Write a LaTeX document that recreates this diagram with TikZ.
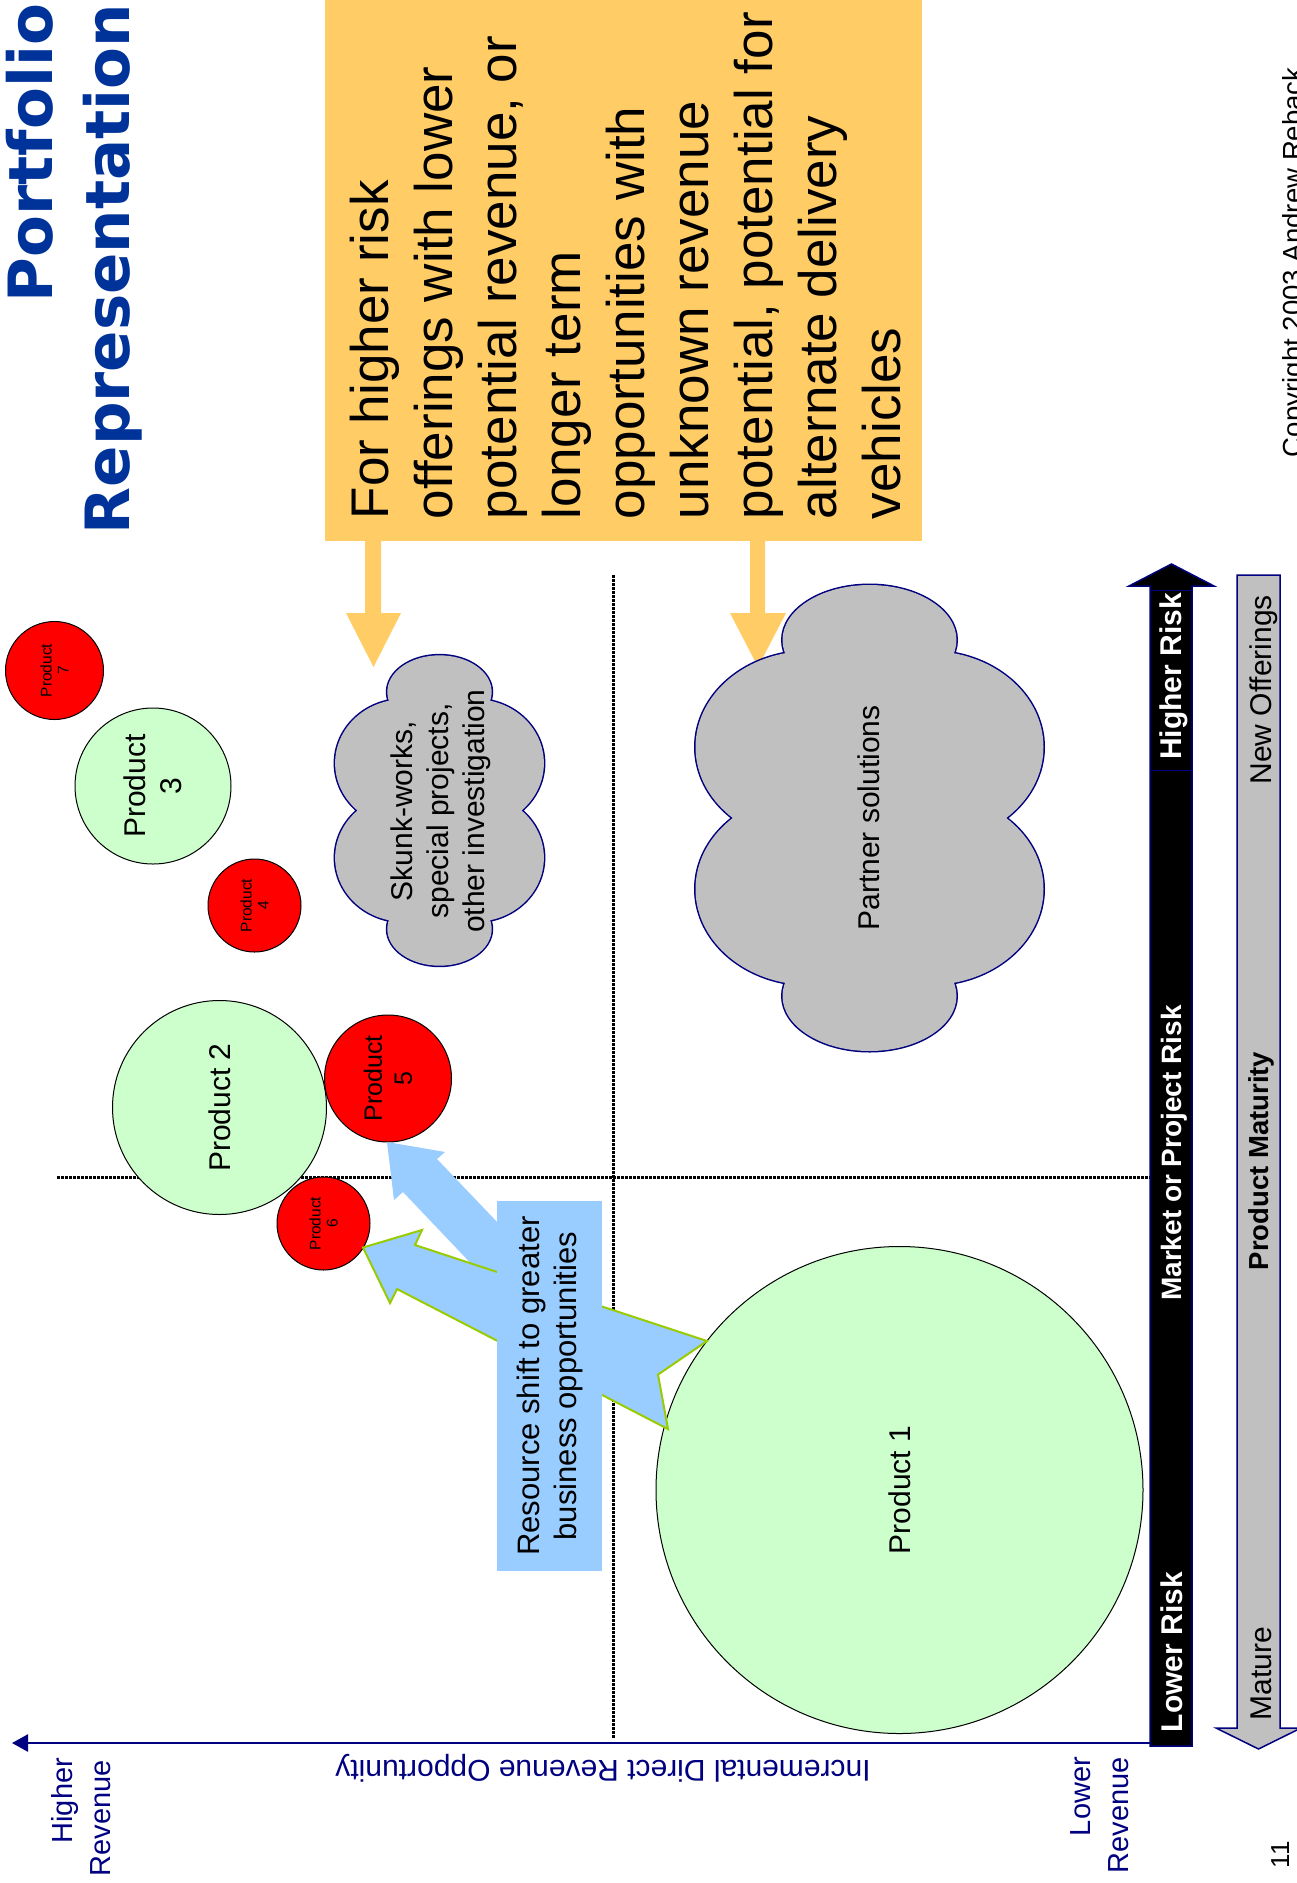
\documentclass[tikz,border=0pt]{standalone}
\usepackage{fontspec}
\setmainfont{Liberation Sans}
\newfontfamily\titlefont{DejaVu Sans}
\usetikzlibrary{arrows.meta}
\definecolor{navy}{RGB}{0,0,128}
\definecolor{titleblue}{RGB}{0,51,153}
\definecolor{orangebox}{RGB}{255,204,102}
\definecolor{lgreen}{RGB}{204,255,204}
\definecolor{cgray}{RGB}{192,192,192}
\definecolor{lblue}{RGB}{153,204,255}
\definecolor{ygreen}{RGB}{153,204,0}
\newcommand\cloudshape[4]{%
 \begin{scope}[shift={(#1,#2)}, xscale=#3, yscale=#4]
  \draw[navy, line width=3pt] (0,-178) ellipse [x radius=87, y radius=55] (0,178) ellipse [x radius=87, y radius=55]
   (-60,-71) ellipse [x radius=114, y radius=96] (60,-71) ellipse [x radius=114, y radius=96]
   (-60,71) ellipse [x radius=114, y radius=96] (60,71) ellipse [x radius=114, y radius=96];
  \fill[cgray] (0,-178) ellipse [x radius=87, y radius=55] (0,178) ellipse [x radius=87, y radius=55]
   (-60,-71) ellipse [x radius=114, y radius=96] (60,-71) ellipse [x radius=114, y radius=96]
   (-60,71) ellipse [x radius=114, y radius=96] (60,71) ellipse [x radius=114, y radius=96];
 \end{scope}}
\begin{document}
\begin{tikzpicture}[x=1pt, y=-1pt,
  every node/.style={inner sep=0pt, outer sep=0pt},
  dotline/.style={line width=3pt, dash pattern=on 2.5pt off 1.5pt},
  otxt/.style={rotate=90, anchor=base west, font=\fontsize{53}{64}\selectfont},
  prodg/.style={circle, draw=black, line width=1pt, fill=lgreen, align=center, rotate=90},
  prodr/.style={circle, draw=black, line width=1pt, fill=red, align=center, rotate=90},
  big/.style={font=\fontsize{30}{36}\selectfont},
  mid/.style={font=\fontsize{25}{30}\selectfont},
  tiny/.style={font=\fontsize{15.5}{17}\selectfont},
  risklbl/.style={rotate=90, text=white, font=\bfseries\fontsize{30}{36}\selectfont},
  matlbl/.style={rotate=90, text=black, font=\fontsize{30}{36}\selectfont},
  revlbl/.style={rotate=90, anchor=base east, text=navy, font=\fontsize{29}{36}\selectfont}]
\useasboundingbox (0,0) rectangle (1297,1883);
\fill[white] (0,0) rectangle (1297,1883);

% quadrant dotted lines
\coordinate (vd1) at (613,575); \coordinate (vd2) at (613,1738);
\coordinate (hd1) at (57,1177); \coordinate (hd2) at (1150,1177);
\draw[dotline] (vd1) -- (vd2);
\draw[dotline] (hd1) -- (hd2);

% title
\node[rotate=90, anchor=base east, text=titleblue, font=\titlefont\bfseries\fontsize{61}{61}\selectfont] (t1) at (52,4) {Portfolio};
\node[rotate=90, anchor=base east, text=titleblue, font=\titlefont\bfseries\fontsize{61}{61}\selectfont] (t2) at (129,4) {Representation};

% orange note
\node[fill=orangebox, minimum width=597pt, minimum height=541pt, anchor=north west] (obox) at (325,0) {};
\node[otxt] (o1) at (388,519) {For higher risk};
\node[otxt] (o2) at (452.1,519) {offerings with lower};
\node[otxt] (o3) at (516.2,519) {potential revenue, or};
\node[otxt] (o4) at (580.3,519) {longer term};
\node[otxt] (o5) at (644.4,519) {opportunities with};
\node[otxt] (o6) at (708.5,519) {unknown revenue};
\node[otxt] (o7) at (772.6,519) {potential, potential for};
\node[otxt] (o8) at (836.7,519) {alternate delivery};
\node[otxt] (o9) at (900.8,519) {vehicles};
\fill[orangebox] (365,540) -- (365,613) -- (346,613) -- (373.5,667) -- (401,613) -- (381,613) -- (381,540) -- cycle;
\fill[orangebox] (750,540) -- (750,613) -- (730,613) -- (758,667) -- (786,613) -- (765,613) -- (765,540) -- cycle;

% clouds
\cloudshape{869.5}{818}{1}{1}
\cloudshape{439.5}{810.5}{0.6}{0.666}
\node[rotate=90, align=center, big] (skunk) at (441,811) {Skunk-works,\\special projects,\\other investigation};
\node[rotate=90, big] (partner) at (869,818) {Partner solutions};

% products
\node[prodg, minimum size=487pt, big] (p1) at (899.5,1490) {Product 1};
\node[prodg, minimum size=214pt, big] (p2) at (219.5,1107.5) {Product 2};
\node[prodg, minimum size=156pt, big] (p3) at (153,786) {Product\\3};
\node[prodr, minimum size=93pt, tiny] (p4) at (254.5,905.5) {Product\\4};
\node[prodr, minimum size=127pt, mid] (p5) at (388,1078.5) {Product\\5};
\node[prodr, minimum size=93pt, tiny] (p6) at (323.5,1223.5) {Product\\6};
\node[prodr, minimum size=98pt, tiny] (p7) at (54.5,670.5) {Product\\7};

% resource shift arrows
\fill[lblue] (387,1142) -- (445,1152) -- (437,1159) -- (560,1288) -- (520,1315) -- (403,1192) -- (394,1200) -- cycle;
\filldraw[fill=lblue, draw=ygreen, line width=2pt] (363,1247.5) -- (422,1230) -- (415,1245) -- (707,1341) -- (658,1374.6) -- (668,1429) -- (397,1289) -- (390,1303) -- cycle;
\node[fill=lblue, rotate=90, minimum width=370pt, minimum height=105pt, align=center, font=\fontsize{31}{37}\selectfont] (rbox) at (549.5,1386) {Resource shift to greater\\business opportunities};

% risk axis
\filldraw[fill=black, draw=navy, line width=1.5pt] (1150,1746) -- (1150,586) -- (1129,586) -- (1171.5,564) -- (1214,586) -- (1192,586) -- (1192,1746) -- cycle;
\draw[navy, line width=1pt] (1150,590) rectangle (1192,770);
\node[risklbl, anchor=base east] (hr) at (1181,593) {Higher Risk};
\node[risklbl, anchor=base, font=\bfseries\fontsize{28}{34}\selectfont] (mr) at (1181,1153) {Market or Project Risk};
\node[risklbl, anchor=base west] (lr) at (1182,1732) {Lower Risk};

% maturity axis
\filldraw[fill=cgray, draw=navy, line width=1.5pt] (1237,575) -- (1280,575) -- (1280,1728) -- (1301,1728) -- (1258.5,1749) -- (1216,1728) -- (1237,1728) -- cycle;
\node[matlbl, anchor=base east] (no) at (1271,595) {New Offerings};
\node[matlbl, anchor=base, font=\bfseries\fontsize{27.5}{33}\selectfont] (pm) at (1268,1161) {Product Maturity};
\node[matlbl, anchor=base west] (ma) at (1271,1720) {Mature};

% revenue axis
\coordinate (ax0) at (1150,1743); \coordinate (ax1) at (12,1743);
\draw[navy, line width=2.5pt, -{Triangle[length=16pt,width=17pt]}] (ax0) -- (ax1);
\node[revlbl] (hr1) at (72,1758) {Higher};
\node[revlbl] (hr2) at (110,1760) {Revenue};
\node[revlbl] (lr1) at (1090,1757) {Lower};
\node[revlbl] (lr2) at (1128,1757) {Revenue};
\node[rotate=180, anchor=base, text=navy, font=\fontsize{30}{36}\selectfont] (idr) at (603,1760) {Incremental Direct Revenue Opportunity};

% footer
\node[rotate=90, anchor=base west, font=\fontsize{27.6}{32}\selectfont] (copy) at (1302,457) {Copyright 2003 Andrew Reback};
\node[rotate=90, anchor=base, font=\fontsize{26}{30}\selectfont] (pg) at (1289,1855) {11};
\end{tikzpicture}
\end{document}
